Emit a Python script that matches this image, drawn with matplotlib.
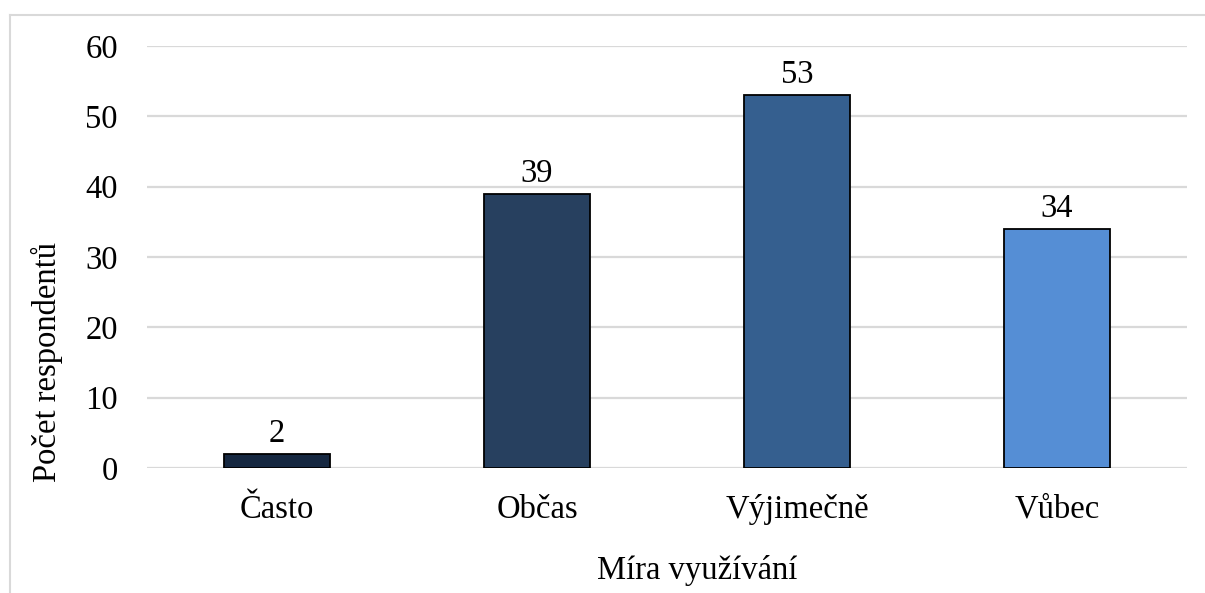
import matplotlib
matplotlib.use("Agg")
import matplotlib.pyplot as plt
from matplotlib.lines import Line2D

# data
kategorie = ["Často", "Občas", "Výjimečně", "Vůbec"]
pocty = [2, 39, 53, 34]
barvy = ["#162841", "#27405f", "#355f8f", "#558ed5"]

plt.rcParams['font.family'] = ['Liberation Serif', 'DejaVu Serif']
fs = 23.5

W, H = 1205, 593
fig = plt.figure(figsize=(W / 100, H / 100), dpi=100)
ax = fig.add_axes([147 / W, 1 - 468 / H, 1040 / W, (468 - 46) / H])

x = range(len(kategorie))
bars = ax.bar(x, pocty, width=0.41, color=barvy, edgecolor="black", linewidth=1.3, zorder=3)
for b, v in zip(bars, pocty):
    ax.text(b.get_x() + b.get_width() / 2, v + 0.7, str(v), ha="center", va="bottom", fontsize=fs)

ax.set_xlim(-0.5, 3.5)
ax.set_ylim(0, 60)
ax.set_yticks(range(0, 61, 10))
ax.set_xticks(list(x))
ax.set_xticklabels(kategorie)
ax.tick_params(axis="both", length=0, labelsize=fs)
ax.tick_params(axis="y", pad=21)
ax.tick_params(axis="x", pad=19)
ax.grid(axis="y", color="#d9d9d9", linewidth=1.6, zorder=0)
for s in ax.spines.values():
    s.set_visible(False)

# axis titles
fig.text(697 / W, 1 - 570 / H, "Míra využívání", fontsize=fs, ha="center", va="center")
fig.text(47 / W, 1 - 362 / H, "Počet respondentů", fontsize=fs, ha="center", va="center", rotation=90)

# light frame around the chart (left and top visible)
fig.add_artist(Line2D([9.5 / W, 9.5 / W], [0, 1 - 14.5 / H], transform=fig.transFigure, color="#d9d9d9", lw=1.5))
fig.add_artist(Line2D([9.5 / W, 1], [1 - 14.5 / H, 1 - 14.5 / H], transform=fig.transFigure, color="#d9d9d9", lw=1.5))

fig.savefig("out.png", dpi=100)
